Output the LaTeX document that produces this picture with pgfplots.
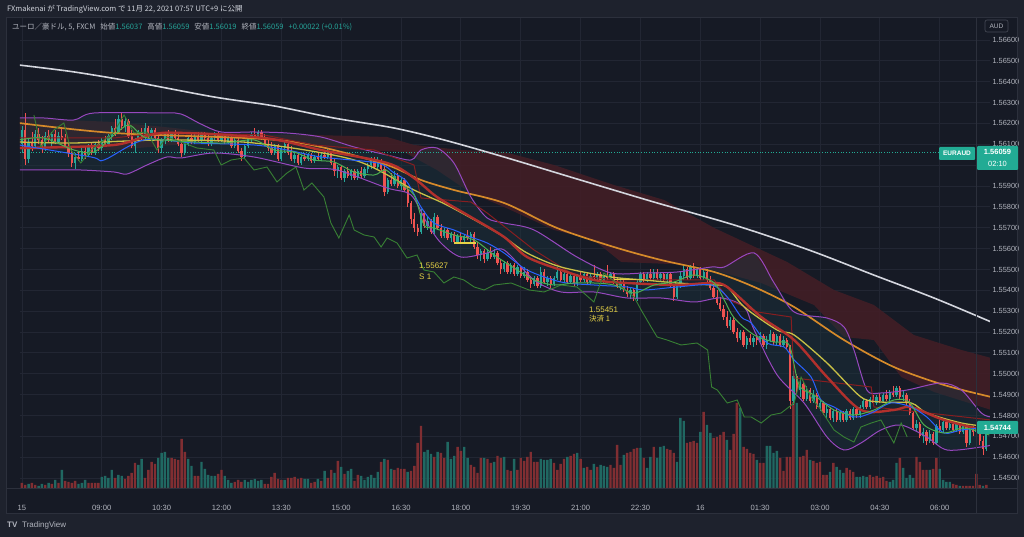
\documentclass[border=0pt]{standalone}
\usepackage{pgfplots}
\pgfplotsset{compat=1.18}
\usepackage{pgfplotstable}
\usepackage{fontspec}
\setmainfont{Liberation Sans}
\newfontfamily\jp{Noto Sans CJK JP}
\definecolor{bgout}{RGB}{30,34,45}
\definecolor{bgin}{RGB}{22,26,37}
\definecolor{gridc}{RGB}{34,38,51}
\definecolor{framec}{RGB}{44,48,60}
\definecolor{boxc}{RGB}{70,74,86}
\definecolor{txt}{RGB}{209,212,220}
\definecolor{lbl}{RGB}{178,181,190}
\definecolor{upc}{RGB}{38,166,154}
\definecolor{dnc}{RGB}{239,83,80}
\definecolor{upv}{RGB}{32,104,98}
\definecolor{dnv}{RGB}{128,46,50}
\definecolor{wline}{RGB}{212,214,222}
\definecolor{orng}{RGB}{214,138,42}
\definecolor{yel}{RGB}{200,192,70}
\definecolor{thred}{RGB}{178,48,44}
\definecolor{kij}{RGB}{135,30,32}
\definecolor{blu}{RGB}{41,98,255}
\definecolor{grn}{RGB}{76,175,80}
\definecolor{dgrn}{RGB}{56,128,52}
\definecolor{purp}{RGB}{150,72,190}
\definecolor{cloudc}{RGB}{66,30,38}
\definecolor{bbfill}{RGB}{28,52,62}
\definecolor{tagc}{RGB}{34,171,148}
\definecolor{trade}{RGB}{230,210,70}

\pgfplotstableread{
i o h l c
0 1.5610 1.5619 1.5606 1.5617
1 1.5617 1.5625 1.5600 1.5603
2 1.5603 1.5613 1.5601 1.5611
3 1.5611 1.5616 1.5607 1.5609
4 1.5609 1.5617 1.5608 1.5615
5 1.5615 1.5618 1.5610 1.5612
6 1.5612 1.5614 1.5606 1.5608
7 1.5608 1.5616 1.5607 1.5614
8 1.5614 1.5617 1.5611 1.5612
9 1.5612 1.5616 1.5609 1.5615
10 1.5615 1.5617 1.5610 1.5611
11 1.5611 1.5616 1.5610 1.5614
12 1.5614 1.5618 1.5612 1.5613
13 1.5613 1.5615 1.5608 1.5609
14 1.5609 1.5612 1.5604 1.5606
15 1.5606 1.5608 1.5599 1.5601
16 1.5601 1.5606 1.5598 1.5604
17 1.5604 1.5607 1.5602 1.5603
18 1.5603 1.5608 1.5602 1.5607
19 1.5607 1.5609 1.5603 1.5605
20 1.5605 1.5610 1.5604 1.5609
21 1.5609 1.5611 1.5605 1.5606
22 1.5606 1.5611 1.5605 1.5610
23 1.5610 1.5612 1.5607 1.5608
24 1.5608 1.5613 1.5607 1.5612
25 1.5612 1.5614 1.5609 1.5610
26 1.5610 1.5615 1.5609 1.5614
27 1.5614 1.5619 1.5612 1.5618
28 1.5618 1.5622 1.5614 1.5616
29 1.5616 1.5624 1.5615 1.5622
30 1.5622 1.5625 1.5617 1.5619
31 1.5619 1.5623 1.5616 1.5621
32 1.5621 1.5622 1.5613 1.5614
33 1.5614 1.5617 1.5608 1.5609
34 1.5609 1.5613 1.5606 1.5612
35 1.5612 1.5617 1.5611 1.5616
36 1.5616 1.5618 1.5612 1.5613
37 1.5613 1.5620 1.5612 1.5618
38 1.5618 1.5619 1.5613 1.5614
39 1.5614 1.5618 1.5613 1.5617
40 1.5617 1.5618 1.5612 1.5613
41 1.5613 1.5614 1.5606 1.5608
42 1.5608 1.5613 1.5606 1.5612
43 1.5612 1.5616 1.5610 1.5615
44 1.5615 1.5617 1.5611 1.5612
45 1.5612 1.5616 1.5611 1.5615
46 1.5615 1.5617 1.5612 1.5613
47 1.5613 1.5615 1.5609 1.5610
48 1.5610 1.5612 1.5604 1.5606
49 1.5606 1.5611 1.5605 1.5610
50 1.5610 1.5614 1.5609 1.5613
51 1.5613 1.5615 1.5610 1.5611
52 1.5611 1.5615 1.5610 1.5614
53 1.5614 1.5616 1.5611 1.5612
54 1.5612 1.5616 1.5611 1.5615
55 1.5615 1.5616 1.5612 1.5613
56 1.5613 1.5615 1.5609 1.5610
57 1.5610 1.5614 1.5609 1.5613
58 1.5613 1.5616 1.5612 1.5615
59 1.5615 1.5616 1.5611 1.5612
60 1.5612 1.5615 1.5611 1.5614
61 1.5614 1.5615 1.5610 1.5611
62 1.5611 1.5614 1.5610 1.5613
63 1.5613 1.5614 1.5608 1.5609
64 1.5609 1.5613 1.5608 1.5612
65 1.5612 1.5614 1.5606 1.5607
66 1.5607 1.5608 1.5602 1.5604
67 1.5604 1.5610 1.5603 1.5609
68 1.5609 1.5614 1.5608 1.5613
69 1.5613 1.5616 1.5611 1.5615
70 1.5615 1.5618 1.5613 1.5614
71 1.5614 1.5617 1.5613 1.5616
72 1.5616 1.5617 1.5612 1.5613
73 1.5613 1.5615 1.5609 1.5610
74 1.5610 1.5613 1.5607 1.5608
75 1.5608 1.5611 1.5605 1.5606
76 1.5606 1.5610 1.5605 1.5609
77 1.5609 1.5610 1.5602 1.5603
78 1.5603 1.5609 1.5602 1.5608
79 1.5608 1.5611 1.5606 1.5610
80 1.5610 1.5611 1.5605 1.5606
81 1.5606 1.5609 1.5602 1.5603
82 1.5603 1.5607 1.5601 1.5605
83 1.5605 1.5606 1.5600 1.5601
84 1.5601 1.5605 1.5600 1.5604
85 1.5604 1.5606 1.5602 1.5603
86 1.5603 1.5606 1.5602 1.5605
87 1.5605 1.5606 1.5601 1.5602
88 1.5602 1.5605 1.5601 1.5604
89 1.5604 1.5606 1.5602 1.5603
90 1.5603 1.5606 1.5602 1.5605
91 1.5605 1.5607 1.5603 1.5604
92 1.5604 1.5608 1.5603 1.5606
93 1.5606 1.5607 1.5600 1.5601
94 1.5601 1.5603 1.5595 1.5597
95 1.5597 1.5600 1.5594 1.5599
96 1.5599 1.5600 1.5593 1.5594
97 1.5594 1.5598 1.5592 1.5597
98 1.5597 1.5599 1.5594 1.5595
99 1.5595 1.5598 1.5593 1.5597
100 1.5597 1.5598 1.5593 1.5594
101 1.5594 1.5598 1.5593 1.5597
102 1.5597 1.5599 1.5594 1.5595
103 1.5595 1.5599 1.5594 1.5598
104 1.5598 1.5601 1.5596 1.5600
105 1.5600 1.5604 1.5598 1.5603
106 1.5603 1.5604 1.5598 1.5599
107 1.5599 1.5604 1.5598 1.5602
108 1.5602 1.5603 1.5597 1.5598
109 1.5598 1.5601 1.5585 1.5587
110 1.5587 1.5594 1.5586 1.5593
111 1.5593 1.5596 1.5590 1.5591
112 1.5591 1.5597 1.5590 1.5595
113 1.5595 1.5596 1.5589 1.5590
114 1.5590 1.5594 1.5588 1.5593
115 1.5593 1.5594 1.5587 1.5588
116 1.5588 1.5590 1.5580 1.5582
117 1.5582 1.5583 1.5572 1.5574
118 1.5574 1.5577 1.5568 1.5570
119 1.5570 1.5572 1.5566 1.5568
120 1.5568 1.5579 1.5567 1.5577
121 1.5577 1.5578 1.5570 1.5571
122 1.5571 1.5575 1.5569 1.5573
123 1.5573 1.5574 1.5567 1.5568
124 1.5568 1.5577 1.5567 1.5575
125 1.5575 1.5576 1.5569 1.5570
126 1.5570 1.5572 1.5565 1.5566
127 1.5566 1.5570 1.5565 1.5569
128 1.5569 1.5570 1.5564 1.5565
129 1.5565 1.5568 1.5563 1.5567
130 1.5567 1.5568 1.5562 1.5563
131 1.5563 1.5567 1.5562 1.5566
132 1.5566 1.5568 1.5563 1.5564
133 1.5564 1.5567 1.5563 1.5566
134 1.5566 1.5569 1.5564 1.5565
135 1.5565 1.5568 1.5563 1.5567
136 1.5567 1.5568 1.5560 1.5561
137 1.5561 1.5563 1.5555 1.5557
138 1.5557 1.5560 1.5554 1.5559
139 1.5559 1.5560 1.5553 1.5555
140 1.5555 1.5560 1.5554 1.5558
141 1.5558 1.5561 1.5555 1.5556
142 1.5556 1.5560 1.5555 1.5558
143 1.5558 1.5559 1.5552 1.5553
144 1.5553 1.5555 1.5548 1.5550
145 1.5550 1.5554 1.5549 1.5553
146 1.5553 1.5554 1.5548 1.5549
147 1.5549 1.5553 1.5548 1.5552
148 1.5552 1.5553 1.5547 1.5548
149 1.5548 1.5552 1.5547 1.5551
150 1.5551 1.5552 1.5546 1.5547
151 1.5547 1.5551 1.5546 1.5549
152 1.5549 1.5550 1.5544 1.5545
153 1.5545 1.5547 1.5541 1.5543
154 1.5543 1.5547 1.5542 1.5546
155 1.5546 1.5547 1.5541 1.5542
156 1.5542 1.5551 1.5541 1.5549
157 1.5549 1.5550 1.5543 1.5544
158 1.5544 1.5547 1.5542 1.5546
159 1.5546 1.5547 1.5541 1.5543
160 1.5543 1.5547 1.5542 1.5546
161 1.5546 1.5551 1.5545 1.5549
162 1.5549 1.5550 1.5544 1.5545
163 1.5545 1.5549 1.5544 1.5548
164 1.5548 1.5549 1.5543 1.5544
165 1.5544 1.5548 1.5543 1.5547
166 1.5547 1.5548 1.5542 1.5543
167 1.5543 1.5548 1.5542 1.5547
168 1.5547 1.5549 1.5544 1.5545
169 1.5545 1.5549 1.5544 1.5548
170 1.5548 1.5549 1.5543 1.5544
171 1.5544 1.5548 1.5543 1.5547
172 1.5547 1.5552 1.5545 1.5546
173 1.5546 1.5549 1.5544 1.5548
174 1.5548 1.5549 1.5543 1.5544
175 1.5544 1.5548 1.5543 1.5547
176 1.5547 1.5552 1.5545 1.5546
177 1.5546 1.5549 1.5545 1.5548
178 1.5548 1.5549 1.5543 1.5544
179 1.5544 1.5546 1.5541 1.5542
180 1.5542 1.5545 1.5540 1.5544
181 1.5544 1.5545 1.5539 1.5540
182 1.5540 1.5542 1.5537 1.5538
183 1.5538 1.5541 1.5536 1.5540
184 1.5540 1.5541 1.5535 1.5536
185 1.5536 1.5545 1.5535 1.5544
186 1.5544 1.5549 1.5543 1.5548
187 1.5548 1.5549 1.5544 1.5545
188 1.5545 1.5549 1.5544 1.5548
189 1.5548 1.5550 1.5545 1.5546
190 1.5546 1.5550 1.5545 1.5549
191 1.5549 1.5550 1.5545 1.5546
192 1.5546 1.5549 1.5544 1.5548
193 1.5548 1.5549 1.5544 1.5545
194 1.5545 1.5549 1.5544 1.5548
195 1.5548 1.5549 1.5541 1.5542
196 1.5542 1.5543 1.5535 1.5537
197 1.5537 1.5543 1.5536 1.5542
198 1.5542 1.5549 1.5541 1.5547
199 1.5547 1.5552 1.5545 1.5550
200 1.5550 1.5551 1.5545 1.5546
201 1.5546 1.5552 1.5545 1.5551
202 1.5551 1.5553 1.5546 1.5547
203 1.5547 1.5551 1.5546 1.5550
204 1.5550 1.5551 1.5545 1.5546
205 1.5546 1.5550 1.5545 1.5549
206 1.5549 1.5550 1.5544 1.5545
207 1.5545 1.5547 1.5540 1.5541
208 1.5541 1.5543 1.5536 1.5537
209 1.5537 1.5540 1.5533 1.5534
210 1.5534 1.5537 1.5530 1.5531
211 1.5531 1.5533 1.5526 1.5527
212 1.5527 1.5530 1.5522 1.5523
213 1.5523 1.5527 1.5521 1.5526
214 1.5526 1.5527 1.5519 1.5520
215 1.5520 1.5522 1.5515 1.5517
216 1.5517 1.5521 1.5516 1.5520
217 1.5520 1.5521 1.5513 1.5514
218 1.5514 1.5518 1.5512 1.5517
219 1.5517 1.5519 1.5514 1.5515
220 1.5515 1.5518 1.5513 1.5517
221 1.5517 1.5519 1.5514 1.5516
222 1.5516 1.5520 1.5515 1.5518
223 1.5518 1.5519 1.5513 1.5514
224 1.5514 1.5518 1.5512 1.5516
225 1.5516 1.5521 1.5515 1.5519
226 1.5519 1.5520 1.5514 1.5515
227 1.5515 1.5519 1.5514 1.5518
228 1.5518 1.5519 1.5513 1.5514
229 1.5514 1.5518 1.5513 1.5516
230 1.5516 1.5517 1.5512 1.5513
231 1.5513 1.5514 1.5483 1.5487
232 1.5487 1.5502 1.5485 1.5499
233 1.5499 1.5500 1.5490 1.5492
234 1.5492 1.5497 1.5489 1.5495
235 1.5495 1.5496 1.5487 1.5488
236 1.5488 1.5494 1.5487 1.5492
237 1.5492 1.5493 1.5486 1.5487
238 1.5487 1.5492 1.5486 1.5490
239 1.5490 1.5491 1.5483 1.5484
240 1.5484 1.5488 1.5482 1.5486
241 1.5486 1.5487 1.5480 1.5481
242 1.5481 1.5485 1.5479 1.5483
243 1.5483 1.5484 1.5478 1.5479
244 1.5479 1.5483 1.5477 1.5482
245 1.5482 1.5483 1.5477 1.5478
246 1.5478 1.5482 1.5477 1.5481
247 1.5481 1.5482 1.5477 1.5478
248 1.5478 1.5483 1.5477 1.5482
249 1.5482 1.5483 1.5478 1.5479
250 1.5479 1.5484 1.5478 1.5483
251 1.5483 1.5484 1.5479 1.5480
252 1.5480 1.5485 1.5479 1.5484
253 1.5484 1.5488 1.5483 1.5487
254 1.5487 1.5488 1.5483 1.5484
255 1.5484 1.5489 1.5483 1.5488
256 1.5488 1.5490 1.5485 1.5486
257 1.5486 1.5490 1.5485 1.5489
258 1.5489 1.5491 1.5486 1.5487
259 1.5487 1.5491 1.5486 1.5490
260 1.5490 1.5492 1.5487 1.5488
261 1.5488 1.5492 1.5487 1.5491
262 1.5491 1.5494 1.5489 1.5490
263 1.5490 1.5494 1.5489 1.5493
264 1.5493 1.5494 1.5488 1.5489
265 1.5489 1.5492 1.5487 1.5490
266 1.5490 1.5491 1.5485 1.5486
267 1.5486 1.5488 1.5480 1.5481
268 1.5481 1.5482 1.5473 1.5474
269 1.5474 1.5478 1.5472 1.5476
270 1.5476 1.5477 1.5469 1.5470
271 1.5470 1.5474 1.5467 1.5472
272 1.5472 1.5473 1.5466 1.5468
273 1.5468 1.5473 1.5467 1.5471
274 1.5471 1.5472 1.5466 1.5467
275 1.5467 1.5476 1.5466 1.5475
276 1.5475 1.5478 1.5472 1.5473
277 1.5473 1.5478 1.5472 1.5477
278 1.5477 1.5478 1.5473 1.5474
279 1.5474 1.5478 1.5473 1.5476
280 1.5476 1.5477 1.5472 1.5473
281 1.5473 1.5477 1.5472 1.5476
282 1.5476 1.5477 1.5471 1.5472
283 1.5472 1.5476 1.5471 1.5475
284 1.5475 1.5476 1.5465 1.5467
285 1.5467 1.5474 1.5466 1.5473
286 1.5473 1.5475 1.5470 1.5472
287 1.5472 1.5476 1.5471 1.5474
288 1.5474 1.5475 1.5466 1.5468
289 1.5468 1.5470 1.5461 1.5464
290 1.5464 1.54750 1.5463 1.54744
}\candles

\pgfplotstableread{
i v d
0 5 0
1 3 0
2 4 1
3 5 0
4 3 0
5 2 1
6 4 1
7 3 0
8 5 1
9 4 0
10 8 1
11 5 0
12 18 1
13 7 0
14 6 0
15 5 0
16 7 0
17 4 1
18 5 1
19 8 1
20 5 0
21 5 0
22 5 0
23 5 0
24 11 1
25 12 1
26 10 1
27 18 1
28 10 0
29 13 1
30 12 1
31 9 0
32 12 0
33 15 0
34 25 0
35 23 1
36 29 1
37 10 0
38 18 0
39 26 0
40 24 0
41 30 1
42 35 1
43 36 1
44 30 1
45 30 0
46 29 0
47 28 0
48 49 0
49 36 0
50 29 1
51 22 1
52 12 0
53 12 0
54 26 1
55 19 1
56 13 1
57 12 1
58 12 1
59 14 0
60 18 0
61 12 1
62 8 1
63 5 1
64 6 0
65 8 0
66 6 0
67 8 1
68 6 1
69 8 1
70 9 1
71 7 1
72 8 1
73 4 0
74 4 0
75 11 0
76 15 0
77 9 0
78 8 0
79 8 1
80 10 0
81 10 0
82 11 0
83 9 0
84 10 0
85 9 1
86 9 1
87 5 0
88 6 0
89 9 1
90 7 0
91 17 1
92 10 0
93 18 0
94 15 1
95 27 0
96 21 1
97 14 0
98 17 1
99 19 1
100 7 0
101 13 0
102 12 1
103 8 1
104 11 1
105 13 1
106 10 1
107 16 1
108 26 0
109 29 1
110 28 0
111 19 1
112 18 0
113 20 0
114 19 0
115 19 0
116 16 1
117 17 0
118 22 0
119 45 0
120 62 0
121 36 1
122 38 1
123 34 1
124 31 0
125 36 1
126 35 0
127 30 0
128 46 1
129 29 1
130 32 1
131 41 0
132 37 0
133 41 1
134 30 1
135 23 0
136 21 0
137 15 0
138 30 0
139 30 1
140 29 0
141 25 0
142 26 1
143 32 0
144 30 0
145 31 1
146 18 0
147 17 0
148 29 1
149 18 0
150 30 0
151 27 0
152 31 0
153 36 0
154 26 0
155 26 0
156 29 1
157 28 1
158 28 1
159 29 1
160 25 0
161 18 0
162 24 0
163 29 0
164 31 1
165 32 0
166 34 0
167 35 1
168 29 0
169 20 1
170 21 0
171 18 0
172 24 1
173 21 0
174 23 1
175 22 1
176 21 1
177 23 0
178 20 0
179 43 0
180 23 0
181 33 1
182 35 0
183 36 0
184 39 0
185 40 0
186 40 1
187 30 0
188 20 1
189 31 1
190 41 0
191 30 1
192 41 1
193 42 1
194 39 0
195 38 0
196 35 0
197 26 1
198 70 1
199 67 1
200 45 0
201 46 0
202 47 0
203 45 0
204 56 1
205 76 0
206 63 1
207 55 1
208 50 0
209 51 0
210 53 0
211 56 0
212 48 1
213 38 0
214 54 0
215 85 0
216 80 1
217 41 0
218 39 0
219 35 0
220 34 0
221 28 1
222 25 0
223 25 0
224 42 1
225 42 1
226 35 1
227 37 1
228 30 0
229 17 0
230 31 0
231 31 0
232 86 0
233 85 1
234 31 0
235 32 0
236 38 0
237 28 1
238 27 0
239 25 0
240 26 0
241 13 0
242 13 0
243 16 1
244 25 0
245 21 1
246 18 1
247 15 1
248 20 0
249 18 0
250 16 0
251 11 1
252 11 1
253 12 1
254 11 1
255 13 0
256 11 0
257 12 0
258 10 0
259 11 0
260 7 0
261 6 1
262 8 1
263 25 1
264 30 0
265 20 1
266 10 1
267 13 1
268 10 1
269 31 0
270 26 0
271 18 0
272 18 0
273 18 1
274 19 0
275 30 0
276 19 1
277 8 1
278 6 1
279 6 1
280 4 0
281 3 0
282 2 1
283 2 0
284 2 0
285 2 0
286 2 0
287 14 0
288 3 0
289 2 1
290 3 0
}\vol

\pgfplotsset{
  chartgeom/.style={
    at={(6,49)}, anchor=south west, scale only axis,
    width=970pt, height=471pt,
    xmin=-0.6, xmax=291.1,
  },
  % prices are mapped to points above the pane bottom (1 pip = 2.086 units) for numerical range only
  pricey/.style={y filter/.expression={(y-1.5445235)*20860}, ymin=0, ymax=471},
}

\begin{document}
\begin{tikzpicture}[x=1pt,y=1pt]
\path[use as bounding box] (0,0) rectangle (1024,537);
\fill[bgout] (0,0) rectangle (1024,537);
\fill[bgin] (6,24) rectangle (1017,520);

% ---------- axis A: grid, ticks, cloud, band fill
\begin{axis}[chartgeom, pricey,
  axis line style={draw=none},
  major tick length=0pt,
  grid=major, grid style={gridc, line width=0.8pt},
  scaled y ticks=false,
  ytick={9.94,30.80,51.66,72.52,93.38,114.24,135.10,155.96,176.82,197.68,218.54,239.40,260.26,281.12,301.98,322.84,343.70,364.56,385.42,406.28,427.14,448.00},
  yticklabels={1.54500,1.54600,1.54700,1.54800,1.54900,1.55000,1.55100,1.55200,1.55300,1.55400,1.55500,1.55600,1.55700,1.55800,1.55900,{},1.56100,1.56200,1.56300,1.56400,1.56500,1.56600},
  yticklabel pos=right,
  yticklabel style={font=\fontsize{7.4}{9}\selectfont, text=lbl, anchor=west, xshift=-1pt},
  xtick={0,24,42,60,78,96,114,132,150,168,186,204,222,240,258,276},
  xticklabels={15,09:00,10:30,12:00,13:30,15:00,16:30,18:00,19:30,21:00,22:30,16,01:30,03:00,04:30,06:00},
  xticklabel style={font=\fontsize{7.6}{9}\selectfont, text=lbl, yshift=-14pt},
]
% Ichimoku cloud
\addplot[fill=cloudc, draw=none, fill opacity=0.9] coordinates {
(-0.9,1.562261) (27.7,1.562069) (45.7,1.561782) (63.8,1.561446) (87.8,1.561446)
(109.8,1.561350) (117.9,1.560967) (132,1.560727) (145,1.560631) (160,1.560008)
(178,1.559049) (193.1,1.558330) (208.2,1.556988) (230.1,1.555358) (244.2,1.554015)
(256.2,1.553296) (268.2,1.551858) (282.5,1.551139) (291.5,1.550755)
(291.5,1.548263) (274.3,1.549126) (264.4,1.549845) (256.2,1.551618) (247.2,1.551762)
(238.2,1.553296) (222.3,1.554351) (202.2,1.555214) (180.2,1.555358) (172,1.556412)
(160,1.556892) (145,1.557994) (135,1.558666) (124.8,1.559768) (114.9,1.560631)
(87.8,1.560823) (63.8,1.561206) (45.7,1.560967) (27.7,1.560727) (-0.9,1.560727)
} -- cycle;
% Bollinger band fill
\addplot[fill=bbfill, draw=none, fill opacity=0.45] coordinates {
(-0.9,1.562261) (6.6,1.562261) (15.6,1.562165) (21.7,1.562501) (42.7,1.562501)
(47.8,1.562453) (53.8,1.561973) (59.9,1.561590) (69.8,1.561590) (79.7,1.561542)
(89.9,1.561350) (99.9,1.560871) (109.8,1.560487) (117,1.560248) (120,1.560727)
(124.8,1.560823) (129.9,1.560104) (135,1.558474) (139.9,1.557467) (145,1.557227)
(154,1.556892) (166.9,1.555597) (177.2,1.554830) (187.1,1.554830) (197,1.554878)
(207.4,1.555118) (211.2,1.555118) (220.2,1.555789) (226.2,1.554351) (232.2,1.552961)
(242.1,1.552673) (247.2,1.552242) (250.2,1.551139) (254.1,1.549221) (258.3,1.549078)
(266.2,1.549221) (276.4,1.549557) (282.5,1.549221) (288.5,1.548119) (291.5,1.547927)
(291.5,1.546585) (288.5,1.546489) (278.2,1.546345) (272.1,1.546968) (264.4,1.547543)
(258.3,1.547304) (252.3,1.546681) (247.2,1.546345) (242.1,1.546968) (235.2,1.548598)
(227.1,1.549940) (220.2,1.552098) (217.2,1.553200) (210.3,1.553632) (202.2,1.553440)
(192.2,1.553632) (182,1.553632) (172,1.553920) (162.1,1.553920) (154,1.554495)
(145,1.555933) (139.9,1.555789) (132,1.555597) (126,1.556269) (121.8,1.557227)
(117,1.558570) (109.8,1.558905) (94.7,1.559768) (84.8,1.559864) (69.8,1.560391)
(57.7,1.560583) (47.8,1.560343) (43.6,1.560391) (37.6,1.560008) (31.6,1.559576)
(27.7,1.559672) (17.7,1.559768) (7.5,1.559768) (-0.9,1.559768)
} -- cycle;
\end{axis}

% ---------- axis B: volume
\begin{axis}[chartgeom, ymin=0, ymax=471, hide axis]
\addplot[ybar, bar width=2.4pt, bar shift=0pt, fill=upv, draw=none]
  table[x=i, y expr=\thisrow{v}*\thisrow{d}] {\vol};
\addplot[ybar, bar width=2.4pt, bar shift=0pt, fill=dnv, draw=none]
  table[x=i, y expr=\thisrow{v}*(1-\thisrow{d})] {\vol};
\end{axis}

% ---------- axis C: candles and indicators
\begin{axis}[chartgeom, pricey, hide axis]
% last-price dotted line
\addplot[tagc, dotted, line width=0.7pt] coordinates {(-0.6,1.56059) (291.1,1.56059)};
% wicks
\addplot[draw=none, mark=none, error bars/.cd, y dir=plus, y explicit, error mark=none,
  error bar style={line width=0.8pt, draw=upc}]
  table[x=i, y=l, y error plus expr={20860*(\thisrow{h}-\thisrow{l})*(\thisrow{c}>=\thisrow{o})}] {\candles};
\addplot[draw=none, mark=none, error bars/.cd, y dir=plus, y explicit, error mark=none,
  error bar style={line width=0.8pt, draw=dnc}]
  table[x=i, y=l, y error plus expr={20860*(\thisrow{h}-\thisrow{l})*(\thisrow{c}<\thisrow{o})}] {\candles};
% bodies
\addplot[draw=none, mark=none, error bars/.cd, y dir=plus, y explicit, error mark=none,
  error bar style={line width=2.3pt, draw=upc}]
  table[x=i, y=o, y error plus expr={20860*(\thisrow{c}-\thisrow{o})*(\thisrow{c}>=\thisrow{o})}] {\candles};
\addplot[draw=none, mark=none, error bars/.cd, y dir=plus, y explicit, error mark=none,
  error bar style={line width=2.3pt, draw=dnc}]
  table[x=i, y=c, y error plus expr={20860*(\thisrow{o}-\thisrow{c})*(\thisrow{c}<\thisrow{o})}] {\candles};

% white long MA
\addplot[wline, line width=1.6pt, smooth] coordinates {
(-0.9,1.56480) (15.6,1.56447) (33.7,1.56399) (57.7,1.56327) (75.8,1.56284) (93.8,1.56226)
(111.9,1.56178) (126.9,1.56121) (145,1.56039) (166,1.55938) (190.1,1.55823) (214.2,1.55713)
(236.7,1.55593) (256.2,1.55473) (274.3,1.55363) (291.5,1.55248)};
% orange MA
\addplot[orng, line width=1.7pt, smooth] coordinates {
(-0.9,1.562021) (27.7,1.561542) (72.8,1.561254) (89.9,1.560871) (109.8,1.560008) (120,1.559289)
(129.9,1.558809) (145,1.558186) (160.9,1.556988) (178,1.556077) (192.2,1.555454) (208.2,1.554878)
(220.2,1.554159) (232.2,1.553200) (247.2,1.551618) (262.2,1.550324) (277.3,1.549461) (291.5,1.548886)};
% Bollinger bands
\addplot[purp, line width=1pt, smooth] coordinates {
(-0.9,1.562261) (6.6,1.562261) (15.6,1.562165) (21.7,1.562501) (42.7,1.562501)
(47.8,1.562453) (53.8,1.561973) (59.9,1.561590) (69.8,1.561590) (79.7,1.561542)
(89.9,1.561350) (99.9,1.560871) (109.8,1.560487) (117,1.560248) (120,1.560727)
(124.8,1.560823) (129.9,1.560104) (135,1.558474) (139.9,1.557467) (145,1.557227)
(154,1.556892) (166.9,1.555597) (177.2,1.554830) (187.1,1.554830) (197,1.554878)
(207.4,1.555118) (211.2,1.555118) (220.2,1.555789) (226.2,1.554351) (232.2,1.552961)
(242.1,1.552673) (247.2,1.552242) (250.2,1.551139) (254.1,1.549221) (258.3,1.549078)
(266.2,1.549221) (276.4,1.549557) (282.5,1.549221) (288.5,1.548119) (291.5,1.547927)};
\addplot[purp, line width=1pt, smooth] coordinates {
(-0.9,1.559768) (7.5,1.559768) (17.7,1.559768) (27.7,1.559672) (31.6,1.559576)
(37.6,1.560008) (43.6,1.560391) (47.8,1.560343) (57.7,1.560583) (69.8,1.560391)
(84.8,1.559864) (94.7,1.559768) (109.8,1.558905) (117,1.558570) (121.8,1.557227)
(126,1.556269) (132,1.555597) (139.9,1.555789) (145,1.555933) (154,1.554495)
(162.1,1.553920) (172,1.553920) (182,1.553632) (192.2,1.553632) (202.2,1.553440)
(210.3,1.553632) (217.2,1.553200) (220.2,1.552098) (227.1,1.549940) (235.2,1.548598)
(242.1,1.546968) (247.2,1.546345) (252.3,1.546681) (258.3,1.547304) (264.4,1.547543)
(272.1,1.546968) (278.2,1.546345) (288.5,1.546489) (291.5,1.546585)};
% kijun-like thin red
\addplot[kij, line width=1pt] coordinates {
(-0.9,1.561302) (27.7,1.561302) (42.7,1.561590) (72.8,1.561446) (87.8,1.560967)
(105.9,1.560727) (117.9,1.560008) (120,1.558426) (135,1.558234) (139.9,1.557707)
(154,1.555933) (166,1.554734) (178,1.554495) (208.2,1.554495) (212.6,1.553536)
(221.1,1.552961) (231.3,1.552721) (232.2,1.549797) (255.4,1.549365) (256.2,1.548406)
(291.5,1.547783)};
% yellow MA
\addplot[yel, line width=1.3pt, smooth] coordinates {
(-0.9,1.561111) (15.6,1.561063) (42.7,1.561206) (69.8,1.561063) (99.9,1.560248)
(117.9,1.558809) (127.8,1.558090) (139.9,1.557036) (145,1.556556) (151.9,1.555789)
(162.1,1.555118) (177.2,1.554639) (187.1,1.554495) (197,1.554351) (207.4,1.554255)
(212.1,1.554159) (217.2,1.553200) (227.1,1.552098) (232.2,1.551858) (242.1,1.550516)
(252.3,1.548886) (258.3,1.548646) (267.4,1.548598) (272.1,1.548119) (282.5,1.547639)
(291.5,1.547448)};
% thick red MA
\addplot[thred, line width=2.4pt, smooth] coordinates {
(-0.9,1.560823) (27.7,1.560967) (42.7,1.561542) (72.8,1.561302) (89.9,1.560727)
(109.8,1.560104) (117.9,1.559385) (124.8,1.558474) (135,1.557515) (145,1.556556)
(151.9,1.555597) (162.1,1.554974) (172,1.554495) (182,1.554351) (197,1.554255)
(207.4,1.554351) (212.1,1.554159) (222.3,1.552721) (232.2,1.551618) (242.1,1.549845)
(252.3,1.548263) (262.2,1.548263) (267.4,1.548406) (277.3,1.547783) (291.5,1.547208)};
% blue MA
\addplot[blu, line width=1pt, smooth] coordinates {
(-0.9,1.560967) (20.8,1.560391) (24.7,1.560248) (36.7,1.561206) (51.7,1.561063)
(69.8,1.560967) (79.7,1.560727) (89.9,1.560391) (106.8,1.560104) (111.9,1.559624)
(115.8,1.559193) (120,1.557994) (123.9,1.557227) (129.9,1.556892) (135,1.556556)
(139.9,1.556269) (145,1.555789) (151.9,1.554974) (162.1,1.554399) (172,1.554255)
(182,1.554159) (187.1,1.554015) (197,1.554159) (207.4,1.554255) (212.1,1.553680)
(216.3,1.552721) (219.3,1.552433) (224.1,1.551475) (229.2,1.551283) (232.2,1.550660)
(237.3,1.549845) (240.3,1.548742) (244.2,1.548406) (250.2,1.547927) (255.4,1.548119)
(261.3,1.548598) (267.4,1.548406) (272.1,1.547927) (277.3,1.547160) (282.5,1.547304)
(290.9,1.547448)};
% bright green fast MA
\addplot[grn, line width=1pt, smooth] coordinates {
(-0.9,1.561206) (6.6,1.561302) (15.6,1.560727) (21.7,1.560631) (27.7,1.561446)
(32.2,1.561926) (36.7,1.561350) (42.7,1.561206) (51.7,1.561111) (60.8,1.561063)
(69.8,1.561206) (75.8,1.560727) (81.8,1.560631) (87.8,1.560248) (93.8,1.560152)
(99.9,1.559672) (105.9,1.559528) (109.5,1.559768) (113.4,1.559145) (117.9,1.558570)
(120.9,1.557131) (123.9,1.556988) (129.9,1.556652) (136,1.556412) (142,1.555693)
(148,1.555070) (154,1.554495) (160,1.554255) (166,1.554351) (172,1.554351)
(178,1.554255) (184.1,1.553872) (190.1,1.554255) (196.1,1.554399) (202.2,1.554734)
(208.2,1.554351) (211.2,1.553536) (214.2,1.552673) (220.2,1.551858) (226.2,1.551523)
(230.7,1.551379) (233.7,1.549461) (238.2,1.548982) (244.2,1.548263) (250.2,1.548023)
(256.2,1.548263) (262.2,1.548742) (266.8,1.548646) (271.3,1.547543) (277.3,1.547160)
(283.3,1.547400) (290.9,1.547064)};
% lagging span (dark green)
\addplot[dgrn, line width=0.9pt] coordinates {
(3.6,1.562405) (5.7,1.560871) (9.6,1.561686) (12.6,1.562021) (14.7,1.560727) (17.7,1.560104)
(20.8,1.560727) (24.7,1.561206) (27.7,1.561590) (30.7,1.562405) (33.7,1.561542) (37.6,1.561590)
(40.6,1.560727) (43.6,1.561350) (47.8,1.561111) (52.6,1.560823) (57.7,1.560727) (59.9,1.560008)
(62.9,1.560248) (66.8,1.560343) (69.8,1.559768) (73.7,1.559912) (76.7,1.559193) (79.7,1.559624)
(82.4,1.559912) (84.8,1.558809) (87.2,1.559145) (90.8,1.558474) (92.9,1.557227) (95.3,1.556508)
(98.4,1.557611) (99.9,1.556892) (102.9,1.556652) (105.9,1.556556) (108,1.556077) (109.8,1.556508)
(112.8,1.556269) (115.8,1.555549) (118.8,1.555693) (120.9,1.554974) (123.9,1.554878) (126.9,1.554351)
(129.9,1.554639) (132.9,1.554495) (136,1.554159) (139,1.554015) (142,1.554255) (147.1,1.554351)
(152.5,1.554015) (157,1.553920) (162.1,1.554255) (166.9,1.554159) (172,1.553440) (175,1.554830)
(179.6,1.554255) (184.1,1.553680) (186.2,1.553057) (189.2,1.552242) (191,1.551762) (194,1.551618)
(198.2,1.551379) (203,1.551475) (206.2,1.551139) (207.4,1.549365) (209.1,1.549221) (212.1,1.548598)
(215.1,1.548742) (217.2,1.547927) (219.3,1.547927) (222.3,1.547639) (225.3,1.548023) (228.3,1.548119)
(232.2,1.548598) (234.3,1.549845) (237.3,1.548886) (240.3,1.548263) (244.2,1.547304) (247.2,1.546968)
(250.2,1.546729) (252.3,1.547448) (255.4,1.547639) (258.3,1.547783) (262.2,1.546681) (264.4,1.547639)
(266.2,1.546968)};
% trade lines
\addplot[trade, line width=1.6pt] coordinates {(130,1.55627) (136.5,1.55627)};
\addplot[trade, line width=1.6pt] coordinates {(178,1.55451) (184.8,1.55451)};
\end{axis}

% frame lines
\draw[framec, line width=0.8pt] (6,24) rectangle (1017,520);
\draw[framec, line width=0.8pt] (976,24) -- (976,520);
\draw[framec, line width=0.8pt] (6,49) -- (1017,49);

% trade labels
\node[anchor=west, inner sep=0, text=trade, font=\fontsize{8}{9}\selectfont] at (419,271) {1.55627};
\node[anchor=west, inner sep=0, text=trade, font=\fontsize{8}{9}\selectfont] at (419,260) {S 1};
\node[anchor=west, inner sep=0, text=trade, font=\fontsize{8}{9}\selectfont] at (589,227) {1.55451};
\node[anchor=west, inner sep=0, text=trade, font=\jp\fontsize{7.5}{9}\selectfont] at (589,218) {決済 1};

% price tags
\fill[tagc, rounded corners=1pt] (939,377) rectangle (975,390);
\node[text=white, font=\bfseries\fontsize{6.5}{7}\selectfont, inner sep=0] at (957,383.5) {EURAUD};
\fill[tagc, rounded corners=1pt] (977,367) rectangle (1018,391);
\node[text=white, font=\bfseries\fontsize{7.5}{8}\selectfont, inner sep=0] at (997.5,385) {1.56059};
\node[text=white, font=\fontsize{7.5}{8}\selectfont, inner sep=0] at (997.5,373.5) {02:10};
\fill[tagc, rounded corners=1pt] (977,103) rectangle (1018,116);
\node[text=white, font=\bfseries\fontsize{7.5}{8}\selectfont, inner sep=0] at (997.5,109.5) {1.54744};
\draw[boxc, rounded corners=2pt, line width=0.6pt, fill=bgin] (985,505) rectangle (1008,517);
\node[text=lbl, font=\fontsize{6.5}{7}\selectfont, inner sep=0] at (996.5,511) {AUD};

% header
\node[anchor=west, inner sep=0, text=txt, font=\jp\fontsize{7.5}{9}\selectfont] at (7,528) {FXmakenai が TradingView.com で 11月 22, 2021 07:57 UTC+9 に公開};
\node[anchor=west, inner sep=0, font=\jp\fontsize{7.5}{9}\selectfont] at (12,510) {\textcolor{lbl}{ユーロ／豪ドル, 5, FXCM}\hspace{5pt}\textcolor{lbl}{始値}\textcolor{upc}{1.56037}\hspace{5pt}\textcolor{lbl}{高値}\textcolor{upc}{1.56059}\hspace{5pt}\textcolor{lbl}{安値}\textcolor{upc}{1.56019}\hspace{5pt}\textcolor{lbl}{終値}\textcolor{upc}{1.56059}\hspace{5pt}\textcolor{upc}{+0.00022 (+0.01\%)}};
% footer logo
\node[anchor=west, inner sep=0, text=lbl, font=\bfseries\fontsize{8}{9}\selectfont] at (7,12) {TV};
\node[anchor=west, inner sep=0, text=lbl, font=\fontsize{8}{9}\selectfont] at (22,12) {TradingView};
\end{tikzpicture}
\end{document}
